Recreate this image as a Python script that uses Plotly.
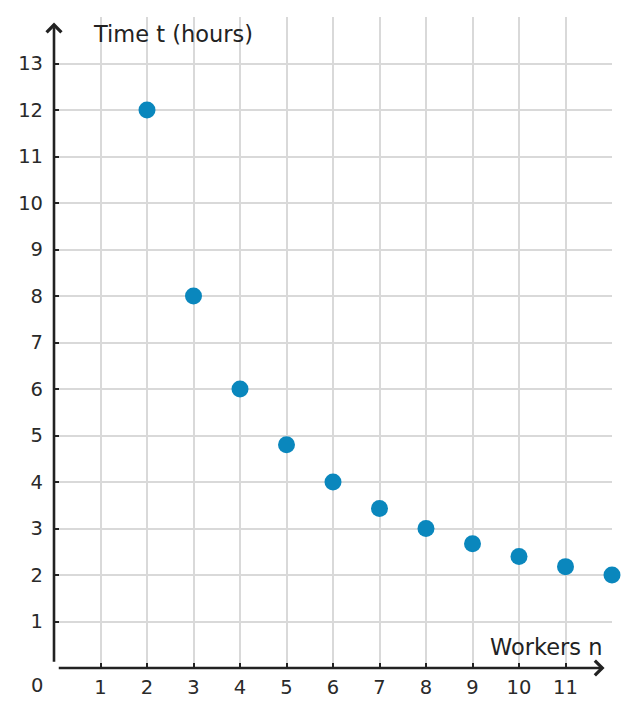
import plotly.graph_objects as go

workers = [2, 3, 4, 5, 6, 7, 8, 9, 10, 11, 12]
hours = [12, 8, 6, 4.8, 4, 3.43, 3, 2.67, 2.4, 2.18, 2]
x_ticks = [1, 2, 3, 4, 5, 6, 7, 8, 9, 10, 11]
y_ticks = [1, 2, 3, 4, 5, 6, 7, 8, 9, 10, 11, 12, 13]

AX = "#222222"
FONT = "DejaVu Sans"
TICK_FONT = dict(family=FONT, size=19.5, color="#2a2a2a")

fig = go.Figure()
fig.add_trace(go.Scatter(
    x=workers, y=hours, mode="markers",
    marker=dict(size=17, color="#0a87bd", line=dict(width=0)),
    cliponaxis=False, hoverinfo="x+y",
))

fig.update_layout(
    width=628, height=708,
    margin=dict(l=46, r=24, t=9, b=48),
    paper_bgcolor="white", plot_bgcolor="white",
    showlegend=False,
    font=dict(family=FONT, size=19, color="#2a2a2a"),
    xaxis=dict(
        range=[0, 12], tickvals=x_ticks, ticktext=[str(v) for v in x_ticks],
        showgrid=True, gridcolor="#d9d9d9", gridwidth=2,
        zeroline=False, showline=False,
        ticks="inside", ticklen=5, tickwidth=2, tickcolor=AX,
        ticklabelstandoff=5,
        tickfont=TICK_FONT,
        fixedrange=True, automargin=False,
    ),
    yaxis=dict(
        range=[0, 14], tickvals=y_ticks, ticktext=[str(v) for v in y_ticks],
        showgrid=True, gridcolor="#d9d9d9", gridwidth=2,
        zeroline=False, showline=False,
        ticks="inside", ticklen=5, tickwidth=2, tickcolor=AX,
        ticklabelstandoff=10,
        tickfont=TICK_FONT,
        fixedrange=True, automargin=False,
    ),
)

# axis lines with arrowheads
fig.add_annotation(x=11.84, y=0, ax=0.07, ay=0, xref="x", yref="y", axref="x", ayref="y",
                   showarrow=True, arrowhead=4, arrowsize=1.1, arrowwidth=2.6, arrowcolor=AX, text="")
fig.add_annotation(x=0, y=13.88, ax=0, ay=0.1, xref="x", yref="y", axref="x", ayref="y",
                   showarrow=True, arrowhead=4, arrowsize=1.1, arrowwidth=2.6, arrowcolor=AX, text="")

# axis titles
fig.add_annotation(x=0.80, y=13.63, xref="x", yref="y", text="Time t (hours)", showarrow=False,
                   xanchor="left", yanchor="middle", font=dict(family=FONT, size=22.5, color="#222222"))
fig.add_annotation(x=11.83, y=0.45, xref="x", yref="y", text="Workers n", showarrow=False,
                   xanchor="right", yanchor="middle", font=dict(family=FONT, size=22.5, color="#222222"))
# origin label
fig.add_annotation(x=-0.0305, y=-0.0276, xref="paper", yref="paper", text="0", showarrow=False,
                   xanchor="center", yanchor="middle", font=TICK_FONT)

fig.write_html("out.html")
